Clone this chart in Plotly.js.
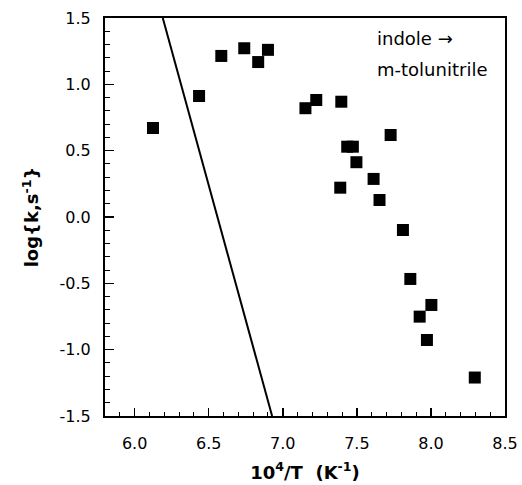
<!DOCTYPE html>
<html>
<head>
<meta charset="utf-8">
<script src="https://cdn.plot.ly/plotly-3.0.1.min.js"></script>
<style>html,body{margin:0;padding:0;background:#fff;}#chart{width:522px;height:485px;}</style>
</head>
<body>
<div id="chart"></div>
<script>
// Measured points: 10^4/T (K^-1) vs log(k, s^-1)
var invT = [6.124, 6.435, 6.585, 6.740, 6.834, 6.900, 7.153, 7.226, 7.395, 7.435, 7.473, 7.497, 7.388, 7.613, 7.653, 7.728, 7.811, 7.861, 8.003, 7.924, 7.973, 8.296];
var logK = [0.671, 0.912, 1.214, 1.272, 1.168, 1.260, 0.820, 0.882, 0.869, 0.530, 0.530, 0.413, 0.221, 0.287, 0.128, 0.618, -0.098, -0.467, -0.663, -0.751, -0.927, -1.210];
// Straight reference line
var lineX = [6.19, 6.928];
var lineY = [1.5, -1.5];
var xTicks = [6.0, 6.5, 7.0, 7.5, 8.0, 8.5];
var xTickText = ['6.0', '6.5', '7.0', '7.5', '8.0', '8.5'];
var yTicks = [-1.5, -1.0, -0.5, 0.0, 0.5, 1.0, 1.5];
var yTickText = ['-1.5', '-1.0', '-0.5', '0.0', '0.5', '1.0', '1.5'];
var labelLines = ['indole \u2192', 'm-tolunitrile'];

var font = 'DejaVu Sans, Verdana, sans-serif';

var traces = [
  {x: lineX, y: lineY, mode: 'lines', line: {color: '#000', width: 2}, hoverinfo: 'skip', showlegend: false},
  {x: invT, y: logK, mode: 'markers', marker: {symbol: 'square', size: 12, color: '#000'}, showlegend: false}
];

var layout = {
  width: 522, height: 485,
  margin: {l: 105, r: 17, t: 18, b: 69},
  paper_bgcolor: '#fff', plot_bgcolor: '#fff',
  font: {family: font, color: '#000', size: 16},
  showlegend: false,
  xaxis: {
    range: [5.8, 8.5], tickmode: 'array', tickvals: xTicks, ticktext: xTickText,
    ticks: 'inside', ticklen: 8, tickwidth: 1.5, tickcolor: '#000',
    minor: {dtick: 0.1, ticks: 'inside', ticklen: 4, tickwidth: 1, tickcolor: '#000', showgrid: false},
    showline: true, linecolor: '#000', linewidth: 2, mirror: true,
    showgrid: false, zeroline: false,
    tickfont: {size: 16, family: font},
    ticklabelstandoff: 12,
    title: {text: '<b>10<sup>4</sup>/T  (K<sup>-1</sup>)</b>', font: {size: 18, family: font}, standoff: 14}
  },
  yaxis: {
    range: [-1.5, 1.5], tickmode: 'array', tickvals: yTicks, ticktext: yTickText,
    ticks: 'inside', ticklen: 9, tickwidth: 1.5, tickcolor: '#000',
    minor: {dtick: 0.1, ticks: 'inside', ticklen: 5, tickwidth: 1, tickcolor: '#000', showgrid: false},
    showline: true, linecolor: '#000', linewidth: 2, mirror: true,
    showgrid: false, zeroline: false,
    tickfont: {size: 16, family: font},
    ticklabelstandoff: 9,
    title: {text: '<b>log{k,s<sup>-1</sup>}</b>', font: {size: 18, family: font}, standoff: 16}
  },
  annotations: [
    {x: 7.62, y: 1.345, xref: 'x', yref: 'y', text: labelLines[0], showarrow: false, xanchor: 'left', yanchor: 'middle', font: {size: 18, family: font, color: '#000'}},
    {x: 7.62, y: 1.115, xref: 'x', yref: 'y', text: labelLines[1], showarrow: false, xanchor: 'left', yanchor: 'middle', font: {size: 18, family: font, color: '#000'}}
  ]
};

Plotly.newPlot('chart', traces, layout, {displayModeBar: false, staticPlot: true});
</script>
</body>
</html>
